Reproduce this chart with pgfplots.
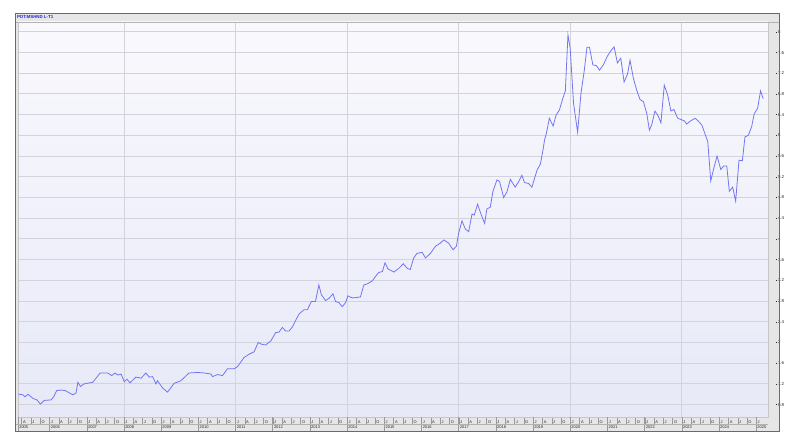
\documentclass[border=0pt]{standalone}
\usepackage{pgfplots}
\pgfplotsset{compat=1.18}
\usepackage{fontspec}
\setmainfont{Liberation Sans}
\definecolor{linec}{HTML}{7376F0}
\definecolor{gridc}{HTML}{D3D3DC}
\definecolor{stripc}{HTML}{E6E6E6}
\definecolor{bgtop}{HTML}{F9F9FD}
\definecolor{bgbot}{HTML}{E7E9F8}
\definecolor{framec}{HTML}{6A6A6A}
\definecolor{titlec}{HTML}{2020E0}
\begin{document}
\begin{tikzpicture}[x=1bp,y=1bp]
\fill[white] (0,0) rectangle (800,447);
\fill[stripc] (15,16) rectangle (779,434);
\node[anchor=west, inner sep=0, text=titlec, font=\bfseries\fontsize{4.4}{5}\selectfont] at (17,429.6) {PDT.MSHND L-T1};
\begin{axis}[
  at={(18bp,30bp)}, anchor=south west,
  scale only axis, width=750bp, height=395bp,
  xmin=2005.15, xmax=2025.32, ymin=0.56, ymax=8.19,
  axis background/.style={top color=bgtop, bottom color=bgbot},
  axis line style={draw=gray!45},
  /pgf/number format/assume math mode=true,
  ytick={0.8,1.2,1.6,2,2.4,2.8,3.2,3.6,4,4.4,4.8,5.2,5.6,6,6.4,6.8,7.2,7.6,8},
  ymajorgrids, major grid style={gridc, line width=0.9bp},
  yticklabel pos=right, ytick pos=right,
  ytick style={draw=none},
  yticklabel={\rule[0.55ex]{1.6bp}{0.4bp}\,\pgfmathprintnumber[fixed,precision=1]{\tick}},
  yticklabel style={font=\fontsize{4.4}{5}\selectfont, text=black!85, anchor=west, inner sep=0.3bp, xshift=0.2bp},
  tick align=outside, major tick length=7bp,
  xtick pos=lower, xticklabel pos=lower,
  xtick={2005.25,2005.5,...,2025},
  xticklabels={A,J,O,J,A,J,O,J,A,J,O,J,A,J,O,J,A,J,O,J,A,J,O,J,A,J,O,J,A,J,O,J,A,J,O,J,A,J,O,J,A,J,O,J,A,J,O,J,A,J,O,J,A,J,O,J,A,J,O,J,A,J,O,J,A,J,O,J,A,J,O,J,A,J,O,J,A,J,O,J},
  xtick style={draw=gray!80, line width=0.45bp},
  xticklabel style={font=\fontsize{4}{4.5}\selectfont, text=black!85, anchor=west, inner sep=0.3bp, xshift=0.8bp, yshift=2bp},
  minor xtick={2008,2011,2014,2017,2020,2023},
  xminorgrids, minor grid style={gridc, line width=0.8bp}, minor tick length=0pt,
  extra x ticks={2005.15,2006,2007,2008,2009,2010,2011,2012,2013,2014,2015,2016,2017,2018,2019,2020,2021,2022,2023,2024,2025},
  extra x tick labels={2005,2006,2007,2008,2009,2010,2011,2012,2013,2014,2015,2016,2017,2018,2019,2020,2021,2022,2023,2024,2025},
  extra x tick style={major tick length=14bp, xticklabel style={yshift=2.2bp}},
]
\addplot[linec, line width=0.8bp] table {
2005.16 1.00
2005.28 0.99
2005.34 0.95
2005.42 1.00
2005.55 0.92
2005.66 0.89
2005.75 0.81
2005.86 0.88
2006.04 0.89
2006.11 0.95
2006.19 1.07
2006.31 1.08
2006.42 1.07
2006.62 0.99
2006.71 1.02
2006.76 1.23
2006.83 1.15
2006.93 1.20
2007.16 1.23
2007.36 1.41
2007.56 1.41
2007.67 1.36
2007.76 1.41
2007.83 1.37
2007.92 1.39
2008.01 1.24
2008.08 1.29
2008.16 1.22
2008.32 1.33
2008.46 1.31
2008.59 1.41
2008.68 1.33
2008.77 1.34
2008.86 1.20
2008.90 1.26
2009.04 1.12
2009.17 1.04
2009.35 1.21
2009.53 1.26
2009.75 1.41
2009.98 1.42
2010.16 1.41
2010.34 1.39
2010.38 1.34
2010.52 1.38
2010.65 1.36
2010.78 1.49
2010.96 1.49
2011.05 1.53
2011.23 1.71
2011.36 1.77
2011.50 1.82
2011.61 2.00
2011.68 1.97
2011.81 1.95
2011.95 2.03
2012.08 2.19
2012.17 2.20
2012.26 2.29
2012.35 2.22
2012.44 2.22
2012.53 2.30
2012.62 2.43
2012.71 2.55
2012.84 2.63
2012.93 2.63
2013.04 2.79
2013.15 2.79
2013.24 3.11
2013.31 2.92
2013.42 2.81
2013.51 2.85
2013.62 2.94
2013.69 2.79
2013.78 2.77
2013.87 2.69
2013.96 2.77
2014.02 2.90
2014.14 2.86
2014.27 2.87
2014.36 2.88
2014.45 3.11
2014.54 3.13
2014.68 3.19
2014.77 3.28
2014.85 3.35
2014.95 3.37
2015.02 3.54
2015.10 3.42
2015.26 3.36
2015.39 3.43
2015.51 3.52
2015.62 3.43
2015.70 3.41
2015.79 3.63
2015.88 3.72
2016.02 3.74
2016.11 3.63
2016.24 3.72
2016.38 3.86
2016.51 3.92
2016.60 3.98
2016.73 3.92
2016.85 3.79
2016.94 3.86
2017.00 4.11
2017.09 4.35
2017.18 4.19
2017.27 4.14
2017.36 4.48
2017.42 4.46
2017.51 4.67
2017.61 4.46
2017.70 4.30
2017.76 4.58
2017.85 4.61
2017.92 4.91
2018.03 5.14
2018.10 5.11
2018.21 4.80
2018.30 4.91
2018.39 5.15
2018.52 5.00
2018.61 5.10
2018.70 5.23
2018.77 5.09
2018.88 5.07
2018.97 5.00
2019.11 5.33
2019.20 5.45
2019.27 5.72
2019.31 5.91
2019.36 6.04
2019.44 6.33
2019.54 6.18
2019.62 6.39
2019.71 6.49
2019.80 6.71
2019.87 6.86
2019.94 7.94
2020.00 7.68
2020.09 6.62
2020.20 6.06
2020.29 6.81
2020.38 7.26
2020.45 7.70
2020.52 7.70
2020.61 7.36
2020.70 7.35
2020.79 7.26
2020.89 7.36
2021.00 7.53
2021.09 7.63
2021.18 7.71
2021.27 7.40
2021.36 7.49
2021.45 7.03
2021.54 7.18
2021.61 7.45
2021.70 7.10
2021.79 6.87
2021.88 6.69
2021.97 6.65
2022.06 6.42
2022.13 6.10
2022.19 6.20
2022.28 6.47
2022.37 6.37
2022.44 6.24
2022.53 6.97
2022.62 6.78
2022.71 6.47
2022.79 6.50
2022.89 6.33
2023.00 6.30
2023.07 6.28
2023.13 6.22
2023.24 6.28
2023.36 6.33
2023.44 6.28
2023.54 6.20
2023.62 6.04
2023.70 5.88
2023.78 5.12
2023.87 5.39
2023.95 5.60
2024.05 5.34
2024.13 5.41
2024.21 5.41
2024.28 4.92
2024.37 5.00
2024.45 4.73
2024.54 5.52
2024.63 5.51
2024.70 5.97
2024.79 6.00
2024.88 6.17
2024.95 6.42
2025.04 6.52
2025.12 6.86
2025.19 6.71
};
\end{axis}
\draw[gray!60, line width=0.4bp] (15,23) -- (768,23);
\draw[gray!60, line width=0.4bp] (15,425) -- (779,425);
\draw[framec, line width=0.8bp] (15,16) rectangle (779,434);
\end{tikzpicture}
\end{document}
